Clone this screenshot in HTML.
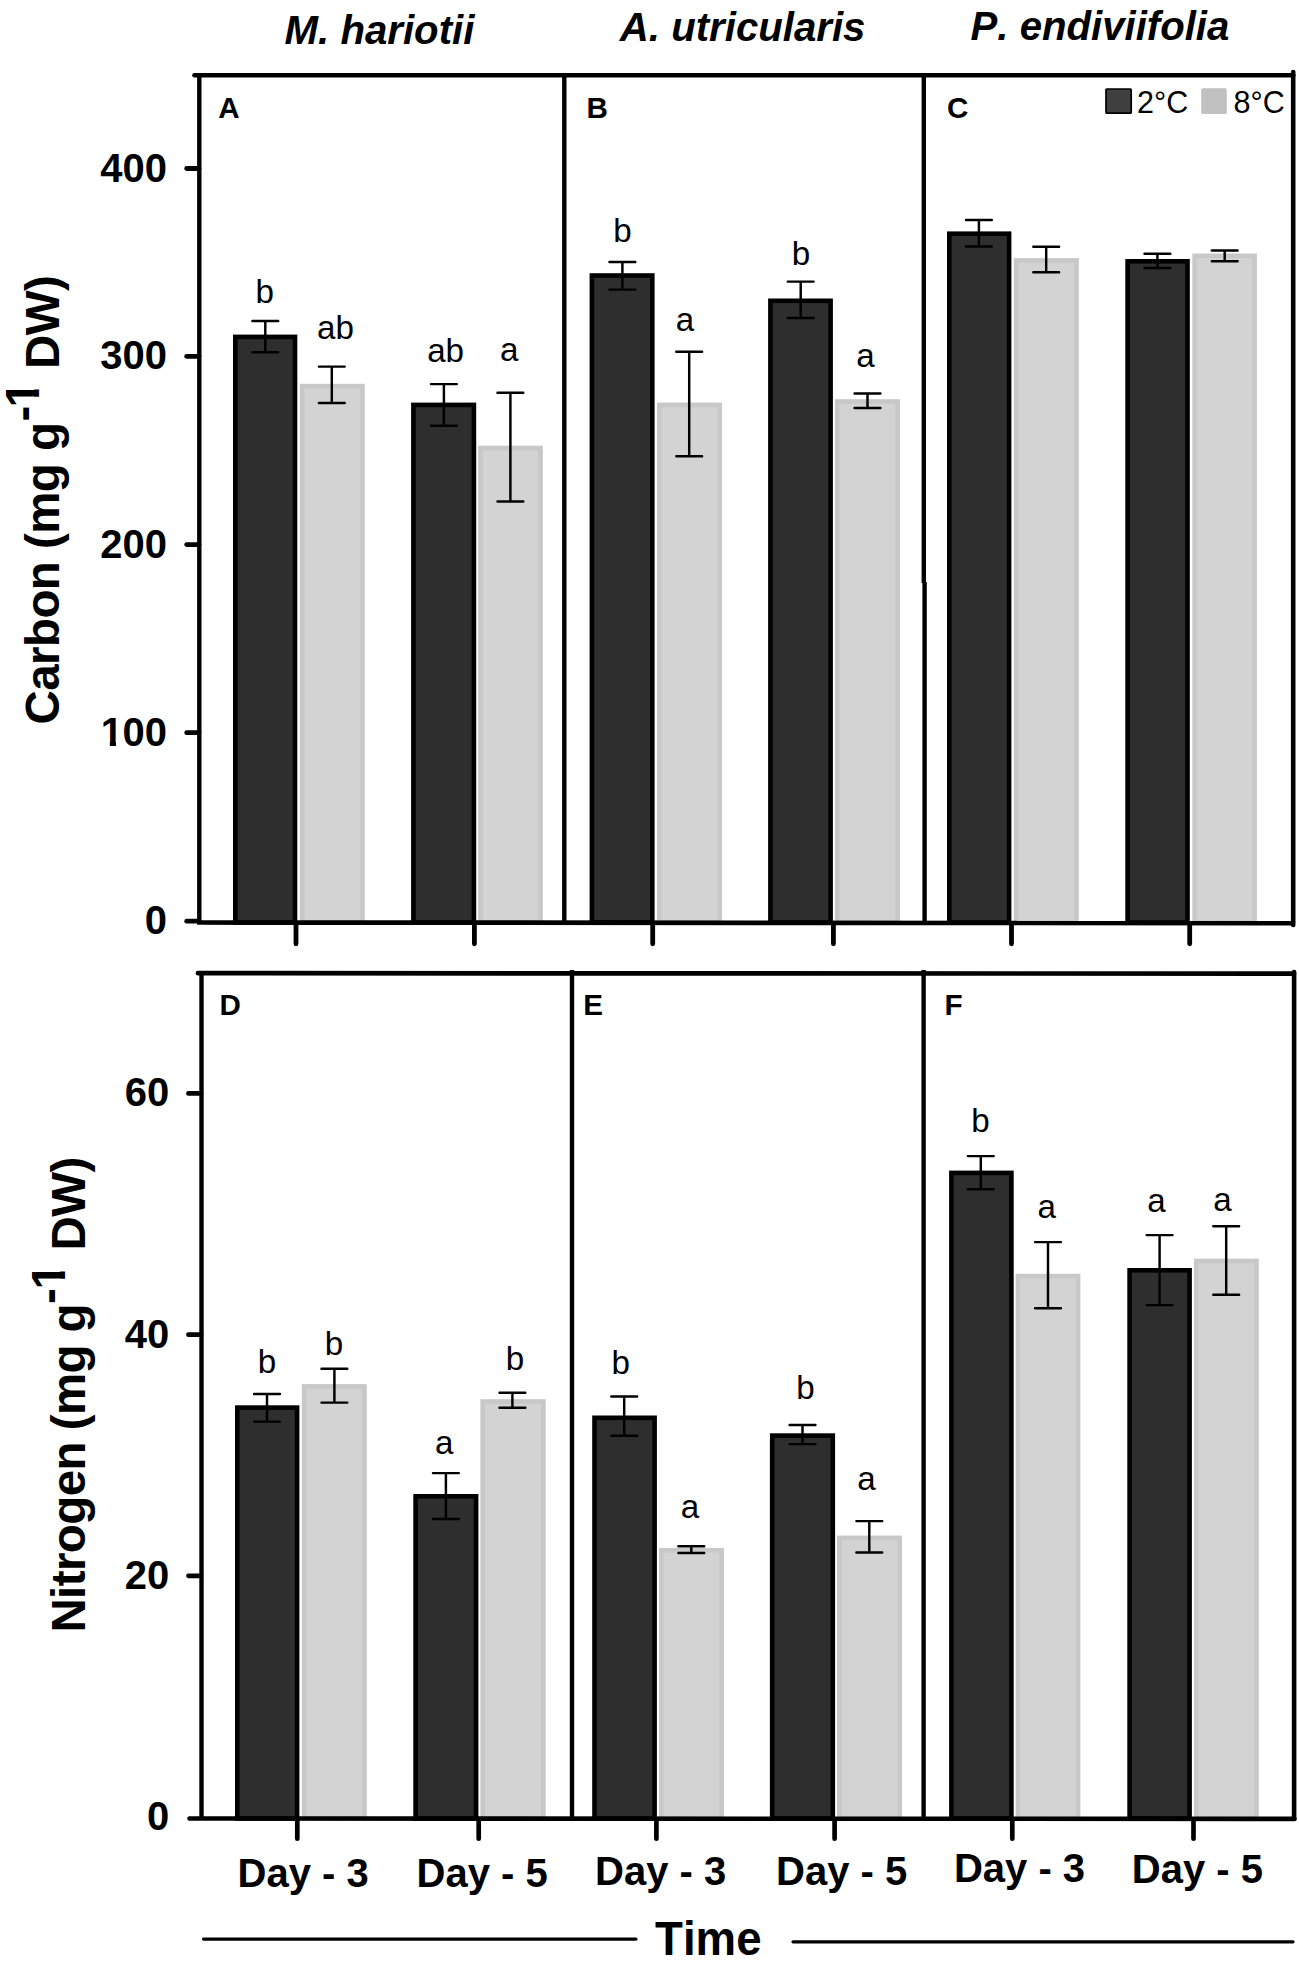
<!DOCTYPE html>
<html><head><meta charset="utf-8"><title>Figure</title>
<style>
html,body{margin:0;padding:0;background:#fff}
svg{display:block}
text{font-family:"Liberation Sans",sans-serif;fill:#000;font-kerning:none}
</style></head>
<body>
<svg width="1299" height="1967" viewBox="0 0 1299 1967">
<rect width="1299" height="1967" fill="#fff"/>
<defs><clipPath id="c1_400"><polygon points="-2.00,-40.00 24.80,-40.00 24.80,-5.40 15.12,-5.40 15.12,1.20 9.04,1.20 9.04,-5.40 -2.00,-5.40"/></clipPath><clipPath id="c1_475"><polygon points="-2.38,-47.50 29.45,-47.50 29.45,-6.41 17.96,-6.41 17.96,1.43 10.73,1.43 10.73,-6.41 -2.38,-6.41"/></clipPath></defs>
<rect x="235.30" y="336.90" width="59.70" height="585.60" fill="#2e2e2e" stroke="#000" stroke-width="4.6"/>
<rect x="302.10" y="386.10" width="60.40" height="536.40" fill="#d3d3d3" stroke="#c8c8c8" stroke-width="4.6"/>
<rect x="413.40" y="404.90" width="60.50" height="517.60" fill="#2e2e2e" stroke="#000" stroke-width="4.6"/>
<rect x="480.50" y="448.00" width="60.10" height="474.50" fill="#d3d3d3" stroke="#c8c8c8" stroke-width="4.6"/>
<rect x="591.90" y="275.50" width="60.40" height="647.00" fill="#2e2e2e" stroke="#000" stroke-width="4.6"/>
<rect x="659.20" y="404.90" width="60.40" height="517.60" fill="#d3d3d3" stroke="#c8c8c8" stroke-width="4.6"/>
<rect x="770.40" y="300.80" width="60.20" height="621.70" fill="#2e2e2e" stroke="#000" stroke-width="4.6"/>
<rect x="837.20" y="401.50" width="60.50" height="521.00" fill="#d3d3d3" stroke="#c8c8c8" stroke-width="4.6"/>
<rect x="949.30" y="233.70" width="59.80" height="688.80" fill="#2e2e2e" stroke="#000" stroke-width="4.6"/>
<rect x="1016.10" y="260.40" width="60.40" height="662.10" fill="#d3d3d3" stroke="#c8c8c8" stroke-width="4.6"/>
<rect x="1127.60" y="261.30" width="59.90" height="661.20" fill="#2e2e2e" stroke="#000" stroke-width="4.6"/>
<rect x="1194.60" y="255.80" width="60.00" height="666.70" fill="#d3d3d3" stroke="#c8c8c8" stroke-width="4.6"/>
<path d="M252.4 321.0H278.2M252.4 352.2H278.2M265.3 321.0V352.2" stroke="#000" stroke-width="2.45" stroke-linecap="round" fill="none"/>
<path d="M318.9 366.6H344.7M318.9 403.0H344.7M331.8 366.6V403.0" stroke="#000" stroke-width="2.45" stroke-linecap="round" fill="none"/>
<path d="M431.0 384.1H456.8M431.0 425.7H456.8M443.9 384.1V425.7" stroke="#000" stroke-width="2.45" stroke-linecap="round" fill="none"/>
<path d="M497.5 392.8H523.3M497.5 501.5H523.3M510.4 392.8V501.5" stroke="#000" stroke-width="2.45" stroke-linecap="round" fill="none"/>
<path d="M609.5 261.9H635.3M609.5 289.6H635.3M622.4 261.9V289.6" stroke="#000" stroke-width="2.45" stroke-linecap="round" fill="none"/>
<path d="M676.3 351.8H702.1M676.3 456.2H702.1M689.2 351.8V456.2" stroke="#000" stroke-width="2.45" stroke-linecap="round" fill="none"/>
<path d="M787.8 281.6H813.6M787.8 317.9H813.6M800.7 281.6V317.9" stroke="#000" stroke-width="2.45" stroke-linecap="round" fill="none"/>
<path d="M854.6 393.4H880.4M854.6 407.9H880.4M867.5 393.4V407.9" stroke="#000" stroke-width="2.45" stroke-linecap="round" fill="none"/>
<path d="M966.0 220.0H991.8M966.0 246.4H991.8M978.9 220.0V246.4" stroke="#000" stroke-width="2.45" stroke-linecap="round" fill="none"/>
<path d="M1033.3 246.8H1059.1M1033.3 272.2H1059.1M1046.2 246.8V272.2" stroke="#000" stroke-width="2.45" stroke-linecap="round" fill="none"/>
<path d="M1144.5 253.8H1170.3M1144.5 268.0H1170.3M1157.4 253.8V268.0" stroke="#000" stroke-width="2.45" stroke-linecap="round" fill="none"/>
<path d="M1211.8 250.4H1237.6M1211.8 261.2H1237.6M1224.7 250.4V261.2" stroke="#000" stroke-width="2.45" stroke-linecap="round" fill="none"/>
<text x="264.7" y="302.5" font-size="33.2" text-anchor="middle">b</text>
<text x="335.5" y="338.5" font-size="33.2" text-anchor="middle">ab</text>
<text x="445.6" y="361.9" font-size="33.2" text-anchor="middle">ab</text>
<text x="509.3" y="361.1" font-size="33.2" text-anchor="middle">a</text>
<text x="622.4" y="241.5" font-size="33.2" text-anchor="middle">b</text>
<text x="684.9" y="331.0" font-size="33.2" text-anchor="middle">a</text>
<text x="801.0" y="264.9" font-size="33.2" text-anchor="middle">b</text>
<text x="865.6" y="367.3" font-size="33.2" text-anchor="middle">a</text>
<rect x="237.30" y="1407.60" width="59.80" height="410.90" fill="#2e2e2e" stroke="#000" stroke-width="4.6"/>
<rect x="304.10" y="1386.40" width="60.40" height="432.10" fill="#d3d3d3" stroke="#c8c8c8" stroke-width="4.6"/>
<rect x="415.60" y="1496.30" width="60.50" height="322.20" fill="#2e2e2e" stroke="#000" stroke-width="4.6"/>
<rect x="482.70" y="1401.50" width="60.70" height="417.00" fill="#d3d3d3" stroke="#c8c8c8" stroke-width="4.6"/>
<rect x="594.50" y="1417.80" width="60.10" height="400.70" fill="#2e2e2e" stroke="#000" stroke-width="4.6"/>
<rect x="661.30" y="1550.20" width="60.40" height="268.30" fill="#d3d3d3" stroke="#c8c8c8" stroke-width="4.6"/>
<rect x="772.20" y="1435.60" width="60.60" height="382.90" fill="#2e2e2e" stroke="#000" stroke-width="4.6"/>
<rect x="839.30" y="1537.90" width="60.40" height="280.60" fill="#d3d3d3" stroke="#c8c8c8" stroke-width="4.6"/>
<rect x="951.40" y="1172.90" width="60.00" height="645.60" fill="#2e2e2e" stroke="#000" stroke-width="4.6"/>
<rect x="1017.90" y="1276.10" width="60.20" height="542.40" fill="#d3d3d3" stroke="#c8c8c8" stroke-width="4.6"/>
<rect x="1129.60" y="1270.30" width="60.00" height="548.20" fill="#2e2e2e" stroke="#000" stroke-width="4.6"/>
<rect x="1196.30" y="1261.00" width="60.20" height="557.50" fill="#d3d3d3" stroke="#c8c8c8" stroke-width="4.6"/>
<path d="M254.1 1393.9H279.9M254.1 1421.6H279.9M267.0 1393.9V1421.6" stroke="#000" stroke-width="2.45" stroke-linecap="round" fill="none"/>
<path d="M321.5 1368.7H347.3M321.5 1402.6H347.3M334.4 1368.7V1402.6" stroke="#000" stroke-width="2.45" stroke-linecap="round" fill="none"/>
<path d="M433.0 1473.1H458.8M433.0 1519.0H458.8M445.9 1473.1V1519.0" stroke="#000" stroke-width="2.45" stroke-linecap="round" fill="none"/>
<path d="M499.5 1392.7H525.3M499.5 1407.8H525.3M512.4 1392.7V1407.8" stroke="#000" stroke-width="2.45" stroke-linecap="round" fill="none"/>
<path d="M611.3 1396.4H637.1M611.3 1435.8H637.1M624.2 1396.4V1435.8" stroke="#000" stroke-width="2.45" stroke-linecap="round" fill="none"/>
<path d="M678.4 1546.3H704.2M678.4 1552.9H704.2M691.3 1546.3V1552.9" stroke="#000" stroke-width="2.45" stroke-linecap="round" fill="none"/>
<path d="M789.6 1425.0H815.4M789.6 1444.1H815.4M802.5 1425.0V1444.1" stroke="#000" stroke-width="2.45" stroke-linecap="round" fill="none"/>
<path d="M856.4 1521.1H882.2M856.4 1552.5H882.2M869.3 1521.1V1552.5" stroke="#000" stroke-width="2.45" stroke-linecap="round" fill="none"/>
<path d="M967.9 1156.1H993.7M967.9 1189.3H993.7M980.8 1156.1V1189.3" stroke="#000" stroke-width="2.45" stroke-linecap="round" fill="none"/>
<path d="M1035.1 1242.1H1060.9M1035.1 1308.2H1060.9M1048.0 1242.1V1308.2" stroke="#000" stroke-width="2.45" stroke-linecap="round" fill="none"/>
<path d="M1146.7 1235.1H1172.5M1146.7 1305.1H1172.5M1159.6 1235.1V1305.1" stroke="#000" stroke-width="2.45" stroke-linecap="round" fill="none"/>
<path d="M1213.3 1226.2H1239.1M1213.3 1294.7H1239.1M1226.2 1226.2V1294.7" stroke="#000" stroke-width="2.45" stroke-linecap="round" fill="none"/>
<text x="267.0" y="1373.3" font-size="33.2" text-anchor="middle">b</text>
<text x="334.0" y="1354.8" font-size="33.2" text-anchor="middle">b</text>
<text x="444.3" y="1454.1" font-size="33.2" text-anchor="middle">a</text>
<text x="514.9" y="1369.6" font-size="33.2" text-anchor="middle">b</text>
<text x="620.8" y="1374.2" font-size="33.2" text-anchor="middle">b</text>
<text x="690.1" y="1517.8" font-size="33.2" text-anchor="middle">a</text>
<text x="805.6" y="1399.4" font-size="33.2" text-anchor="middle">b</text>
<text x="866.6" y="1490.4" font-size="33.2" text-anchor="middle">a</text>
<text x="980.5" y="1131.5" font-size="33.2" text-anchor="middle">b</text>
<text x="1046.8" y="1217.7" font-size="33.2" text-anchor="middle">a</text>
<text x="1156.5" y="1211.5" font-size="33.2" text-anchor="middle">a</text>
<text x="1222.5" y="1210.6" font-size="33.2" text-anchor="middle">a</text>
<line x1="194.5" y1="75.2" x2="1293.2" y2="75.2" stroke="#000" stroke-width="4.6" stroke-linecap="round"/>
<line x1="197.1" y1="922.5" x2="1293.2" y2="923.2" stroke="#000" stroke-width="4.7" stroke-linecap="butt"/>
<line x1="199.3" y1="75.2" x2="199.3" y2="922.5" stroke="#000" stroke-width="4.4" stroke-linecap="butt"/>
<line x1="564.3" y1="75.2" x2="564.3" y2="922.5" stroke="#000" stroke-width="4.4" stroke-linecap="butt"/>
<line x1="923.8" y1="75.2" x2="923.8" y2="583" stroke="#000" stroke-width="4.4" stroke-linecap="butt"/>
<line x1="924.6" y1="582" x2="924.6" y2="922.5" stroke="#000" stroke-width="4.4" stroke-linecap="butt"/>
<line x1="1293.2" y1="72" x2="1293.2" y2="925" stroke="#000" stroke-width="4.6" stroke-linecap="round"/>
<line x1="186.7" y1="168.5" x2="199" y2="168.5" stroke="#000" stroke-width="4.8" stroke-linecap="round"/>
<line x1="186.7" y1="356.3" x2="199" y2="356.3" stroke="#000" stroke-width="4.8" stroke-linecap="round"/>
<line x1="186.7" y1="544.6" x2="199" y2="544.6" stroke="#000" stroke-width="4.8" stroke-linecap="round"/>
<line x1="186.7" y1="732.7" x2="199" y2="732.7" stroke="#000" stroke-width="4.8" stroke-linecap="round"/>
<line x1="186.7" y1="921.2" x2="199" y2="921.2" stroke="#000" stroke-width="4.8" stroke-linecap="round"/>
<line x1="296" y1="925" x2="296" y2="943.8" stroke="#000" stroke-width="4.8" stroke-linecap="round"/>
<line x1="474.4" y1="925" x2="474.4" y2="943.8" stroke="#000" stroke-width="4.8" stroke-linecap="round"/>
<line x1="652.7" y1="925" x2="652.7" y2="943.8" stroke="#000" stroke-width="4.8" stroke-linecap="round"/>
<line x1="833.4" y1="925" x2="833.4" y2="943.8" stroke="#000" stroke-width="4.8" stroke-linecap="round"/>
<line x1="1011.5" y1="925" x2="1011.5" y2="943.8" stroke="#000" stroke-width="4.8" stroke-linecap="round"/>
<line x1="1189.7" y1="925" x2="1189.7" y2="943.8" stroke="#000" stroke-width="4.8" stroke-linecap="round"/>
<line x1="198" y1="973.2" x2="1294" y2="973.6" stroke="#000" stroke-width="4.7" stroke-linecap="round"/>
<line x1="189.5" y1="1818.5" x2="1294.5" y2="1818.9" stroke="#000" stroke-width="4.6" stroke-linecap="round"/>
<line x1="201.5" y1="973" x2="201.5" y2="1818.5" stroke="#000" stroke-width="4.4" stroke-linecap="butt"/>
<line x1="572" y1="970" x2="572" y2="1818.5" stroke="#000" stroke-width="4.4" stroke-linecap="butt"/>
<line x1="923.6" y1="970" x2="923.6" y2="1818.5" stroke="#000" stroke-width="4.4" stroke-linecap="butt"/>
<path d="M1294.1 1818.8V972.1" stroke="#000" stroke-width="4.6" stroke-linecap="round" fill="none"/>
<line x1="188.5" y1="1093.4" x2="201" y2="1093.4" stroke="#000" stroke-width="4.8" stroke-linecap="round"/>
<line x1="188.5" y1="1334.7" x2="201" y2="1334.7" stroke="#000" stroke-width="4.8" stroke-linecap="round"/>
<line x1="188.5" y1="1575.8" x2="201" y2="1575.8" stroke="#000" stroke-width="4.8" stroke-linecap="round"/>
<line x1="297.3" y1="1821" x2="297.3" y2="1838.7" stroke="#000" stroke-width="4.7" stroke-linecap="round"/>
<line x1="478.7" y1="1821" x2="478.7" y2="1838.7" stroke="#000" stroke-width="4.7" stroke-linecap="round"/>
<line x1="656.4" y1="1821" x2="656.4" y2="1838.7" stroke="#000" stroke-width="4.7" stroke-linecap="round"/>
<line x1="834.6" y1="1821" x2="834.6" y2="1838.7" stroke="#000" stroke-width="4.7" stroke-linecap="round"/>
<line x1="1012.3" y1="1821" x2="1012.3" y2="1838.7" stroke="#000" stroke-width="4.7" stroke-linecap="round"/>
<line x1="1193.5" y1="1821" x2="1193.5" y2="1838.7" stroke="#000" stroke-width="4.7" stroke-linecap="round"/>
<text x="284.6" y="44.3" font-size="40.2" text-anchor="start" font-weight="bold" font-style="italic">M. hariotii</text>
<text x="619.8" y="41.1" font-size="40.2" text-anchor="start" font-weight="bold" font-style="italic">A. utricularis</text>
<text x="970.6" y="40.0" font-size="40.15" text-anchor="start" font-weight="bold" font-style="italic">P. endiviifolia</text>
<text x="218.3" y="117.7" font-size="29.6" text-anchor="start" font-weight="bold">A</text>
<text x="586.5" y="117.7" font-size="29.6" text-anchor="start" font-weight="bold">B</text>
<text x="947" y="117.7" font-size="29.6" text-anchor="start" font-weight="bold">C</text>
<text x="219.5" y="1014.6" font-size="29.6" text-anchor="start" font-weight="bold">D</text>
<text x="583.3" y="1014.6" font-size="29.6" text-anchor="start" font-weight="bold">E</text>
<text x="944.5" y="1014.6" font-size="29.6" text-anchor="start" font-weight="bold">F</text>
<text transform="translate(167.0,181.50) scale(1,1.025)" font-size="40" text-anchor="end" font-weight="bold">400</text>
<text transform="translate(167.0,369.40) scale(1,1.025)" font-size="40" text-anchor="end" font-weight="bold">300</text>
<text transform="translate(167.0,557.60) scale(1,1.025)" font-size="40" text-anchor="end" font-weight="bold">200</text>
<text transform="translate(100.8,745.70) scale(1,1.025)" font-size="40" clip-path="url(#c1_400)" font-weight="bold">1</text>
<text transform="translate(167.0,745.70) scale(1,1.025)" font-size="40" text-anchor="end" font-weight="bold">00</text>
<text transform="translate(167.0,934.20) scale(1,1.025)" font-size="40" text-anchor="end" font-weight="bold">0</text>
<text transform="translate(169.3,1106.40) scale(1,1.025)" font-size="40" text-anchor="end" font-weight="bold">60</text>
<text transform="translate(169.3,1347.70) scale(1,1.025)" font-size="40" text-anchor="end" font-weight="bold">40</text>
<text transform="translate(169.3,1588.80) scale(1,1.025)" font-size="40" text-anchor="end" font-weight="bold">20</text>
<text transform="translate(169.3,1830.20) scale(1,1.025)" font-size="40" text-anchor="end" font-weight="bold">0</text>
<text x="237.6" y="1886.5" font-size="40.0" text-anchor="start" font-weight="bold">Day - 3</text>
<text x="416.5" y="1887.4" font-size="40.0" text-anchor="start" font-weight="bold">Day - 5</text>
<text x="595.1" y="1884.7" font-size="40.0" text-anchor="start" font-weight="bold">Day - 3</text>
<text x="776.0" y="1884.7" font-size="40.0" text-anchor="start" font-weight="bold">Day - 5</text>
<text x="953.9" y="1881.5" font-size="40.0" text-anchor="start" font-weight="bold">Day - 3</text>
<text x="1131.8" y="1883.3" font-size="40.0" text-anchor="start" font-weight="bold">Day - 5</text>
<text transform="translate(655.1,1954.9) scale(1,1.04)" font-size="45.6" font-weight="bold">Time</text>
<line x1="203.5" y1="1939.1" x2="636" y2="1939.1" stroke="#000" stroke-width="3.2" stroke-linecap="round"/>
<line x1="793" y1="1941.8" x2="1293" y2="1941.8" stroke="#000" stroke-width="3.2" stroke-linecap="round"/>
<rect x="1106" y="89" width="25.2" height="24.2" rx="0.8" fill="#404040" stroke="#000" stroke-width="1.7"/>
<rect x="1201.2" y="88.3" width="25.6" height="25.6" rx="1.5" fill="#c1c1c1"/>
<text x="1137" y="113.1" font-size="30.5" text-anchor="start" >2°C</text>
<text x="1233.5" y="113.1" font-size="30.5" text-anchor="start" >8°C</text>
<text transform="translate(58.50,724.40) rotate(-90)" font-size="47.5" letter-spacing="-0.6" font-weight="bold">Carbon</text>
<text transform="translate(58.50,549.00) rotate(-90)" font-size="47.5" letter-spacing="-0.6" font-weight="bold">(mg</text>
<text transform="translate(58.50,451.00) rotate(-90)" font-size="47.5" letter-spacing="-0.6" font-weight="bold">g</text>
<text transform="translate(38.90,421.50) rotate(-90)" font-size="47.5" letter-spacing="-0.6" font-weight="bold">-</text>
<text transform="translate(38.90,407.50) rotate(-90)" font-size="47.5" letter-spacing="-0.6" font-weight="bold" clip-path="url(#c1_475)">1</text>
<text transform="translate(58.50,369.00) rotate(-90)" font-size="47.5" letter-spacing="-0.6" font-weight="bold">DW)</text>
<text transform="translate(84.60,1632.60) rotate(-90)" font-size="47.5" letter-spacing="-0.6" font-weight="bold">Nitrogen</text>
<text transform="translate(84.60,1430.30) rotate(-90)" font-size="47.5" letter-spacing="-0.6" font-weight="bold">(mg</text>
<text transform="translate(84.60,1332.60) rotate(-90)" font-size="47.5" letter-spacing="-0.6" font-weight="bold">g</text>
<text transform="translate(64.80,1304.00) rotate(-90)" font-size="47.5" letter-spacing="-0.6" font-weight="bold">-</text>
<text transform="translate(64.80,1289.50) rotate(-90)" font-size="47.5" letter-spacing="-0.6" font-weight="bold" clip-path="url(#c1_475)">1</text>
<text transform="translate(84.60,1250.50) rotate(-90)" font-size="47.5" letter-spacing="-0.6" font-weight="bold">DW)</text>
</svg>
</body></html>
